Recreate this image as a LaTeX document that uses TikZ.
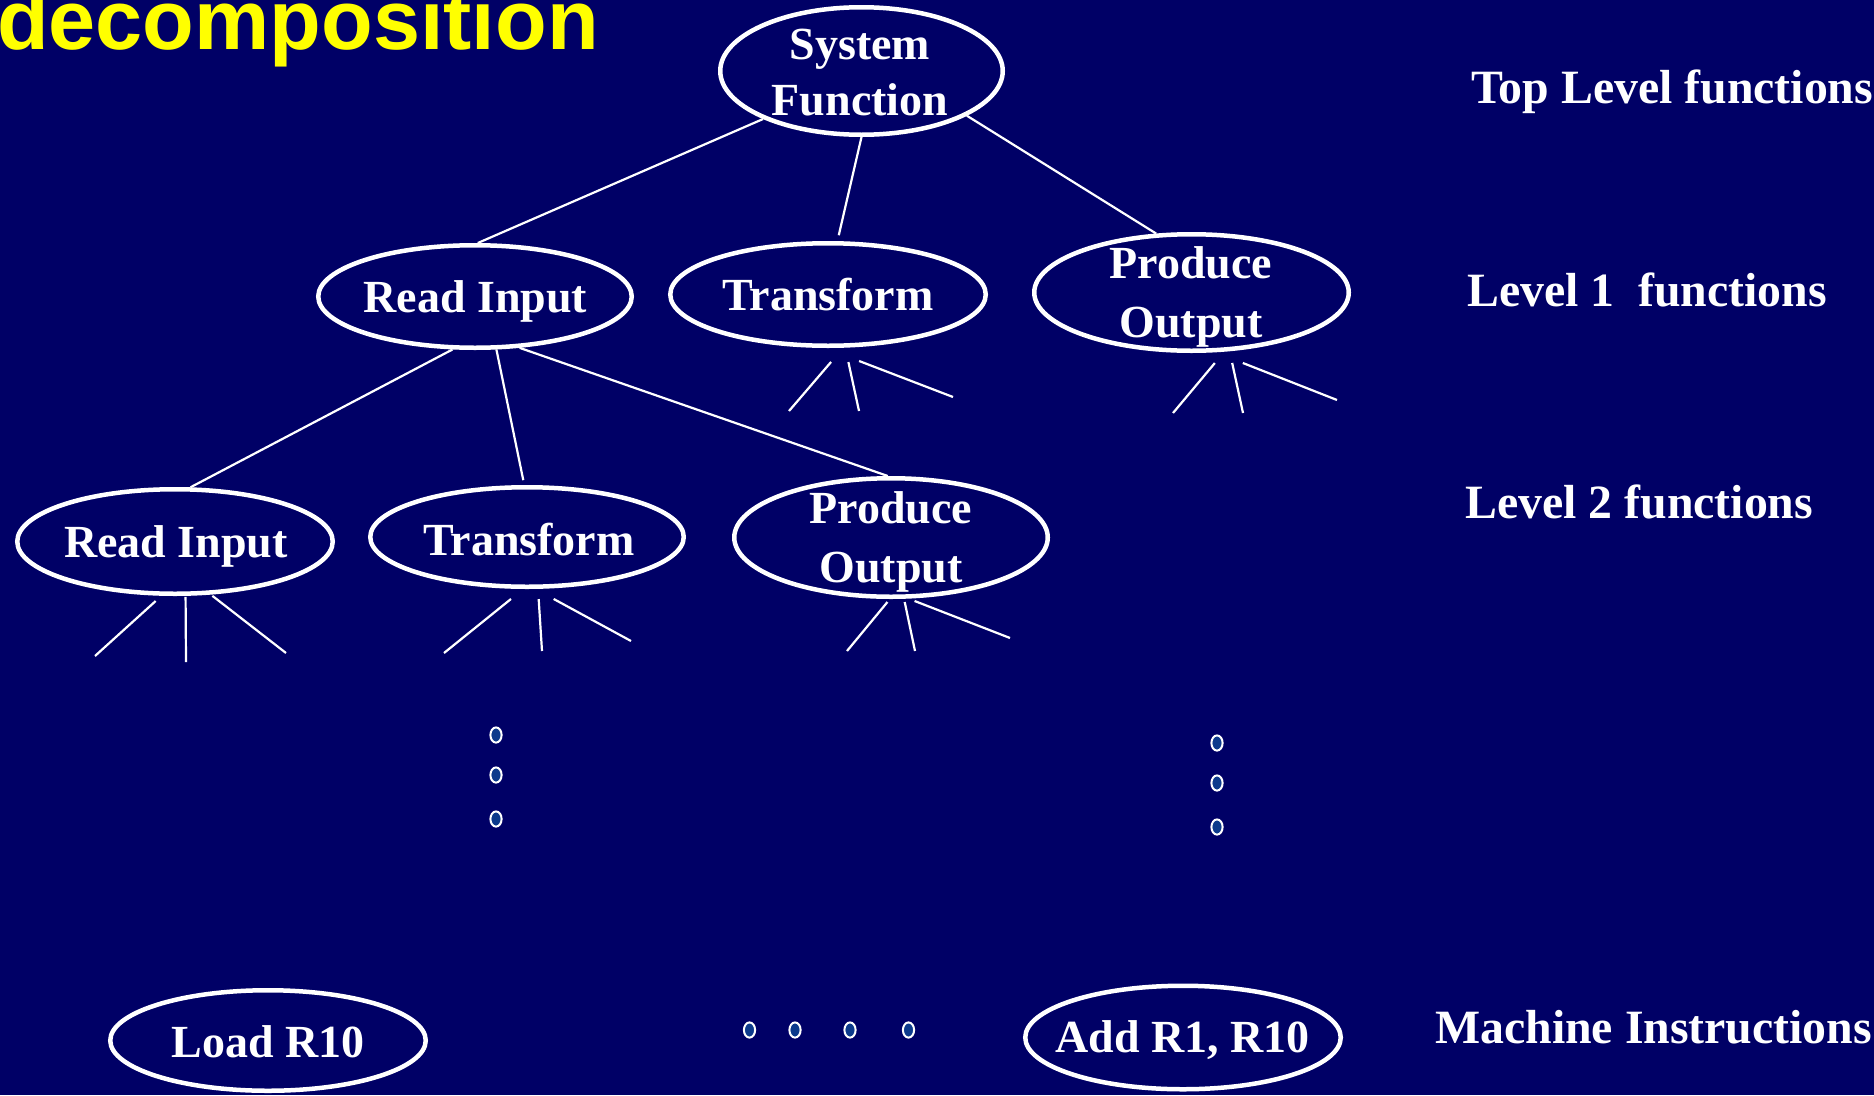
\documentclass[tikz,border=0pt]{standalone}
\usepackage{fontspec}
\setmainfont{Liberation Serif}
\newfontfamily\headfont{Liberation Sans}
\usetikzlibrary{shapes.geometric}
\definecolor{slidebg}{RGB}{0,0,102}
\definecolor{dotfill}{RGB}{12,58,140}
\definecolor{headyellow}{RGB}{255,255,0}
\begin{document}
\begin{tikzpicture}[x=1pt,y=-1pt,
  oval/.style={ellipse, draw=white, line width=4.5pt, inner sep=0pt},
  ovaltext/.style={text=white, font=\fontsize{46}{56}\selectfont\bfseries, inner sep=0pt, align=center},
  ovaltexttall/.style={ovaltext, font=\fontsize{46}{59}\selectfont\bfseries},
  link/.style={draw=white, line width=2.2pt},
  levellabel/.style={text=white, font=\fontsize{47.8}{56}\selectfont\bfseries, inner sep=0pt, anchor=base west},
  dotmark/.style={draw=white, fill=dotfill, line width=2pt}]

% background and page frame
\fill[slidebg] (0,0) rectangle (1874,1095);
\useasboundingbox (0,0) rectangle (1874,1095);

% heading (runs off the top edge)
\node[anchor=base west, inner sep=0pt, text=headyellow,
      font=\headfont\fontsize{84.6}{84}\selectfont\bfseries] (title) at (-3,49) {decomposition};

% ---- function ovals ----
\node[oval, minimum width=282.5pt, minimum height=127.5pt] (sf)  at (861.5,71)    {};
\node[oval, minimum width=313.5pt, minimum height=102.5pt] (ri1) at (475,296.5)   {};
\node[oval, minimum width=315.5pt, minimum height=102.5pt] (t1)  at (828,294.5)   {};
\node[oval, minimum width=314.5pt, minimum height=116.5pt] (po1) at (1191.5,292.5){};
\node[oval, minimum width=315.5pt, minimum height=104.5pt] (ri2) at (175,541.5)   {};
\node[oval, minimum width=313.5pt, minimum height=99.5pt]  (t2)  at (527,537)     {};
\node[oval, minimum width=313.5pt, minimum height=118.5pt] (po2) at (891,537.5)   {};
\node[oval, minimum width=315.5pt, minimum height=100.5pt] (ld)  at (268,1040.5)  {};
\node[oval, minimum width=315.5pt, minimum height=103.5pt] (add) at (1183,1037.5) {};

% ---- oval captions ----
\node[ovaltext, anchor=center]     (sftxt)  at (860,73)      {System\\Function};
\node[ovaltext, anchor=base]       (ri1txt) at (475.5,312)   {Read Input};
\node[ovaltext, anchor=base]       (t1txt)  at (828,310)     {Transform};
\node[ovaltexttall, anchor=center] (po1txt) at (1191,297)    {Produce\\Output};
\node[ovaltext, anchor=base]       (ri2txt) at (176,557)     {Read Input};
\node[ovaltext, anchor=base]       (t2txt)  at (529,555)     {Transform};
\node[ovaltexttall, anchor=center] (po2txt) at (891,541.7)   {Produce\\Output};
\node[ovaltext, anchor=base]       (ldtxt)  at (268,1057)    {Load R10};
\node[ovaltext, anchor=base]       (addtxt) at (1182.5,1052) {Add R1, R10};

% ---- tree edges ----
\draw[link] (sf.206) -- (ri1.87);
\draw[link, shorten >=6pt] (sf.270) -- (t1.80);
\draw[link] (sf.337) -- (po1.121);
\draw[link] (ri1.247) -- (ri2.74);
\draw[link, shorten >=5pt] (ri1.292) -- (t2.93);
\draw[link] (ri1.311) -- (po2.93);

% ---- open-ended branches below the ovals ----
\coordinate (t1a)  at (789,411);
\coordinate (t1b)  at (859,411);
\coordinate (t1c)  at (953,397);
\coordinate (po1a) at (1173,413);
\coordinate (po1b) at (1243,413);
\coordinate (po1c) at (1337,400);
\coordinate (ri2a) at (95,656);
\coordinate (ri2b) at (186,662);
\coordinate (ri2c) at (286,653);
\coordinate (t2a)  at (444,653);
\coordinate (t2b)  at (542,651);
\coordinate (t2c)  at (631,641);
\coordinate (po2a) at (847,651);
\coordinate (po2b) at (915,651);
\coordinate (po2c) at (1010,638);

\draw[link, shorten <=18.7pt] (t1.286) -- (t1a);
\draw[link, shorten <=14.7pt] (t1.288) -- (t1b);
\draw[link, shorten <=36.3pt] (t1.267) -- (t1c);
\draw[link, shorten <=14.8pt] (po1.299) -- (po1a);
\draw[link, shorten <=12pt]   (po1.303) -- (po1b);
\draw[link, shorten <=29.2pt] (po1.292) -- (po1c);
\draw[link, shorten <=7.8pt]  (ri2.256) -- (ri2a);
\draw[link, shorten <=1pt]    (ri2.281) -- (ri2b);
\draw[link, shorten <=2pt]    (ri2.304) -- (ri2c);
\draw[link, shorten <=15.9pt] (t2.266) -- (t2a);
\draw[link, shorten <=10.2pt] (t2.282) -- (t2b);
\draw[link, shorten <=21pt]   (t2.279) -- (t2c);
\draw[link, shorten <=3.9pt]  (po2.269) -- (po2a);
\draw[link, shorten <=3.3pt]  (po2.282) -- (po2b);
\draw[link, shorten <=6.5pt]  (po2.286) -- (po2c);

% ---- ellipsis marks ----
\foreach \yy in {735,775,819} {
  \draw[dotmark] (496,\yy) ellipse [x radius=5.6pt, y radius=7.6pt];
}
\foreach \yy in {743,783,827} {
  \draw[dotmark] (1217,\yy) ellipse [x radius=5.6pt, y radius=7.6pt];
}
\foreach \xx in {749.5,795,850,908.5} {
  \draw[dotmark] (\xx,1030) ellipse [x radius=5.6pt, y radius=7.6pt];
}

% ---- level captions ----
\node[levellabel] (lvtop) at (1471,103)  {Top Level functions};
\node[levellabel] (lv1)   at (1467,306)  {Level 1\ \ functions};
\node[levellabel] (lv2)   at (1465,518)  {Level 2 functions};
\node[levellabel] (lvmi)  at (1435,1043) {Machine Instructions};

\end{tikzpicture}
\end{document}
